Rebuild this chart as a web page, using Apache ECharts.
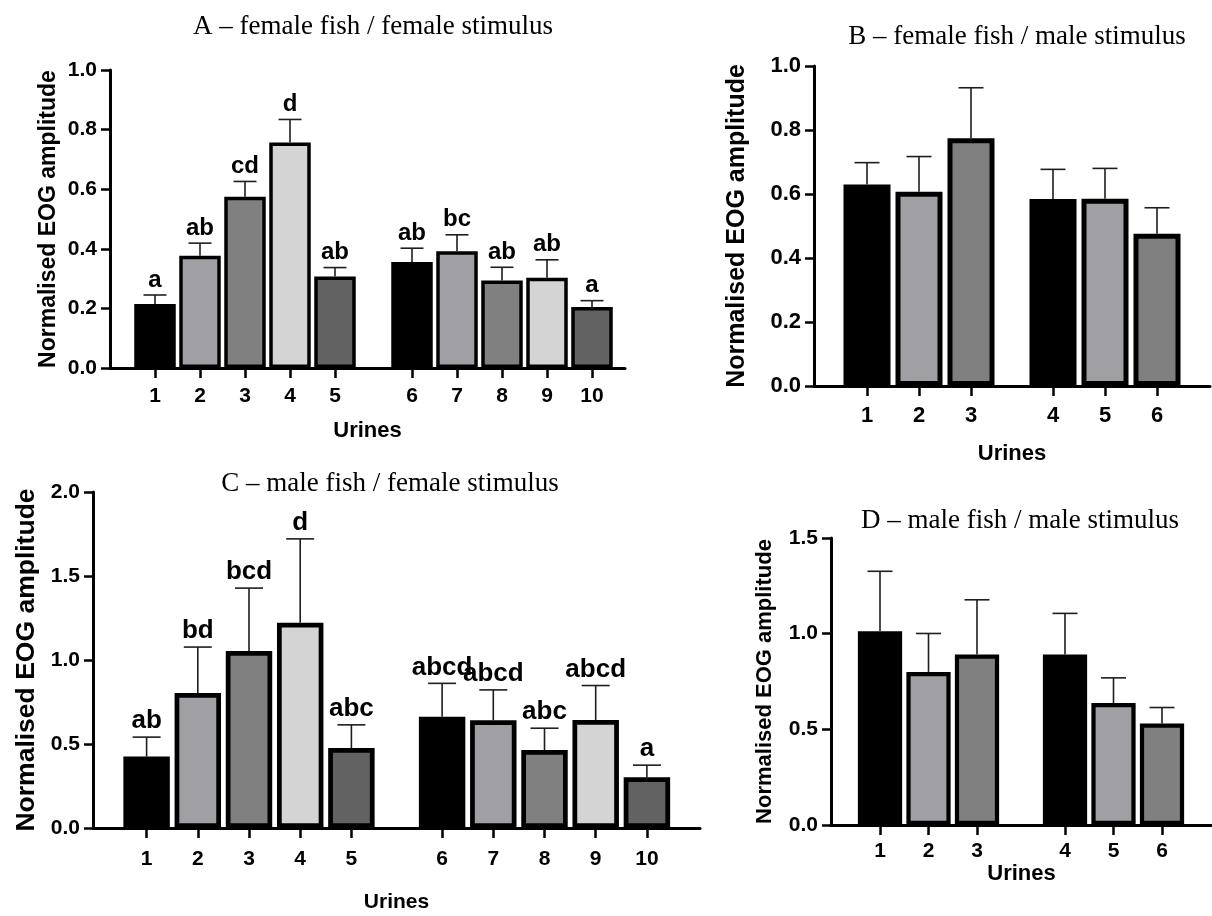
<!DOCTYPE html>
<html>
<head>
<meta charset="utf-8">
<script src="https://cdn.jsdelivr.net/npm/echarts@6/dist/echarts.min.js"></script>
<style>
html,body{margin:0;padding:0;background:#fff;}
#chart{width:1212px;height:916px;}
</style>
</head>
<body>
<div id="chart"></div>
<script>
// ---------- DATA ----------
const urinesA = ['1','2','3','4','5','6','7','8','9','10'];
const meanA = [0.215, 0.377, 0.575, 0.757, 0.307, 0.356, 0.392, 0.294, 0.303, 0.205];
const semA = [0.030, 0.042, 0.051, 0.077, 0.030, 0.046, 0.055, 0.044, 0.060, 0.021];
const lettersA = ['a','ab','cd','d','ab','ab','bc','ab','ab','a'];

const urinesB = ['1','2','3','4','5','6'];
const meanB = [0.630, 0.607, 0.774, 0.584, 0.585, 0.476];
const semB = [0.068, 0.110, 0.158, 0.093, 0.095, 0.081];

const urinesC = ['1','2','3','4','5','6','7','8','9','10'];
const meanC = [0.425, 0.803, 1.054, 1.221, 0.476, 0.662, 0.641, 0.464, 0.643, 0.302];
const semC = [0.116, 0.274, 0.374, 0.500, 0.138, 0.199, 0.181, 0.130, 0.205, 0.072];
const lettersC = ['ab','bd','bcd','d','abc','abcd','abcd','abc','abcd','a'];

const urinesD = ['1','2','3','4','5','6'];
const meanD = [1.012, 0.800, 0.891, 0.891, 0.637, 0.531];
const semD = [0.314, 0.201, 0.286, 0.215, 0.132, 0.083];

const titleA = 'A \u2013 female fish / female stimulus';
const titleB = 'B \u2013 female fish / male stimulus';
const titleC = 'C \u2013 male fish / female stimulus';
const titleD = 'D \u2013 male fish / male stimulus';
const yName = 'Normalised EOG amplitude';
const xName = 'Urines';

// ---------- STYLE / LAYOUT ----------
const palette5 = ['#000000', '#a0a0a4', '#808080', '#d4d4d4', '#626262'];
const palette3 = ['#000000', '#a0a0a4', '#808080'];
const sansFont = 'Liberation Sans';

const panels = [
  { title: titleA, cats: urinesA, mean: meanA, sem: semA, letters: lettersA, split: 5, palette: palette5,
    titleX: 368, titleTop: 8,
    x0: 110, xEnd: 625, yTop: 70, y0: 368, yMax: 1.0, yInt: 0.2,
    gL: 132.5, gR: 389.5, sp: 45, border: 3.5, capW: 23,
    tickFont: 21, labelMargin: 18, yLabelMargin: 13, letterFont: 24,
    yNameFont: 23, yNameGap: 50, xNameFont: 22, xNameGap: 52 },
  { title: titleB, cats: urinesB, mean: meanB, sem: semB, letters: null, split: 3, palette: palette3,
    titleX: 1012, titleTop: 18,
    x0: 814, xEnd: 1210, yTop: 66, y0: 386, yMax: 1.0, yInt: 0.2,
    gL: 841, gR: 1027, sp: 52, border: 5, capW: 25,
    tickFont: 22, labelMargin: 19, yLabelMargin: 13, letterFont: 22,
    yNameFont: 25, yNameGap: 64, xNameFont: 22, xNameGap: 57 },
  { title: titleC, cats: urinesC, mean: meanC, sem: semC, letters: lettersC, split: 5, palette: palette5,
    titleX: 385, titleTop: 465,
    x0: 93, xEnd: 700, yTop: 492, y0: 828, yMax: 2.0, yInt: 0.5,
    gL: 121, gR: 416.5, sp: 51.2, border: 4.75, capW: 28,
    tickFont: 21, labelMargin: 21, yLabelMargin: 13, letterFont: 26,
    yNameFont: 26.5, yNameGap: 52, xNameFont: 21, xNameGap: 64 },
  { title: titleD, cats: urinesD, mean: meanD, sem: semD, letters: null, split: 3, palette: palette3,
    titleX: 1015, titleTop: 502,
    x0: 831, xEnd: 1212, yTop: 538, y0: 825, yMax: 1.5, yInt: 0.5,
    gL: 855.75, gR: 1040.75, sp: 48.5, border: 4.25, capW: 25,
    tickFont: 21, labelMargin: 16, yLabelMargin: 13, letterFont: 22,
    yNameFont: 22, yNameGap: 55, xNameFont: 22, xNameGap: 38 }
];

const option = {
  backgroundColor: '#ffffff',
  animation: false,
  title: [], grid: [], xAxis: [], yAxis: [], series: []
};

const axisColor = '#000';

function addPanel(P) {
  option.title.push({
    text: P.title, left: P.titleX, top: P.titleTop, textAlign: 'center',
    textStyle: { fontFamily: 'Liberation Serif', fontWeight: 'normal', fontSize: 27, color: '#000' }
  });
  const height = P.y0 - P.yTop;
  // frame grid: y axis + full x axis line
  const gf = option.grid.length;
  option.grid.push({ left: P.x0, top: P.yTop, width: P.xEnd - P.x0, height: height });
  option.xAxis.push({
    type: 'value', gridIndex: gf, min: 0, max: 1,
    axisLine: { show: true, onZero: false, lineStyle: { color: axisColor, width: 3 } },
    axisTick: { show: false }, axisLabel: { show: false }, splitLine: { show: false },
    name: xName, nameLocation: 'middle', nameGap: P.xNameGap,
    nameTextStyle: { fontFamily: sansFont, fontWeight: 'bold', fontSize: P.xNameFont, color: '#000' }
  });
  option.yAxis.push({
    type: 'value', gridIndex: gf, min: 0, max: P.yMax, interval: P.yInt,
    axisLine: { show: true, onZero: false, lineStyle: { color: axisColor, width: 3 } },
    axisTick: { show: true, length: 9, lineStyle: { color: axisColor, width: 2.5 } },
    axisLabel: { formatter: v => v.toFixed(1), fontFamily: sansFont, fontWeight: 'bold',
                 fontSize: P.tickFont, color: '#000', margin: P.yLabelMargin },
    splitLine: { show: false },
    name: yName, nameLocation: 'middle', nameGap: P.yNameGap, nameRotate: 90,
    nameTextStyle: { fontFamily: sansFont, fontWeight: 'bold', fontSize: P.yNameFont, color: '#000' }
  });
  const n = P.cats.length;
  const groups = [[0, P.split, P.gL], [P.split, n, P.gR]];
  groups.forEach(([s, e, left]) => {
    const gi = option.grid.length;
    const count = e - s;
    option.grid.push({ left: left, top: P.yTop, width: P.sp * count, height: height });
    option.xAxis.push({
      type: 'category', gridIndex: gi, data: P.cats.slice(s, e), boundaryGap: true,
      axisLine: { show: false },
      axisTick: { show: true, alignWithLabel: true, length: 10, lineStyle: { color: axisColor, width: 2.5 } },
      axisLabel: { fontFamily: sansFont, fontWeight: 'bold', fontSize: P.tickFont, color: '#000', margin: P.labelMargin },
      splitLine: { show: false }
    });
    option.yAxis.push({ type: 'value', gridIndex: gi, min: 0, max: P.yMax, interval: P.yInt, show: false });
    const means = P.mean.slice(s, e);
    const sems = P.sem.slice(s, e);
    const lets = P.letters ? P.letters.slice(s, e) : null;
    option.series.push({
      type: 'bar', xAxisIndex: gi, yAxisIndex: gi,
      barWidth: P.sp - P.border, z: 2,
      data: means.map((v, i) => ({
        value: v,
        itemStyle: { color: P.palette[i % P.palette.length], borderColor: '#000', borderWidth: P.border }
      }))
    });
    option.series.push({
      type: 'custom', xAxisIndex: gi, yAxisIndex: gi, z: 3,
      data: means.map((v, i) => [i, v, sems[i]]),
      renderItem: function (params, api) {
        const x = api.value(0), m = api.value(1), sd = api.value(2);
        const p0 = api.coord([x, m]);
        const p1 = api.coord([x, m + sd]);
        const ls = { stroke: '#1e1e1e', lineWidth: 1.6 };
        const children = [
          { type: 'line', shape: { x1: p0[0], y1: p0[1], x2: p1[0], y2: p1[1] }, style: ls },
          { type: 'line', shape: { x1: p1[0] - P.capW / 2, y1: p1[1], x2: p1[0] + P.capW / 2, y2: p1[1] }, style: ls }
        ];
        if (lets) {
          children.push({
            type: 'text',
            style: { text: lets[params.dataIndex], x: p1[0], y: p1[1] - 3, align: 'center', verticalAlign: 'bottom',
                     fontFamily: sansFont, fontWeight: 'bold', fontSize: P.letterFont, fill: '#000' }
          });
        }
        return { type: 'group', children: children };
      }
    });
  });
}

panels.forEach(addPanel);

const chart = echarts.init(document.getElementById('chart'), null, { renderer: 'canvas' });
chart.setOption(option);
</script>
</body>
</html>
